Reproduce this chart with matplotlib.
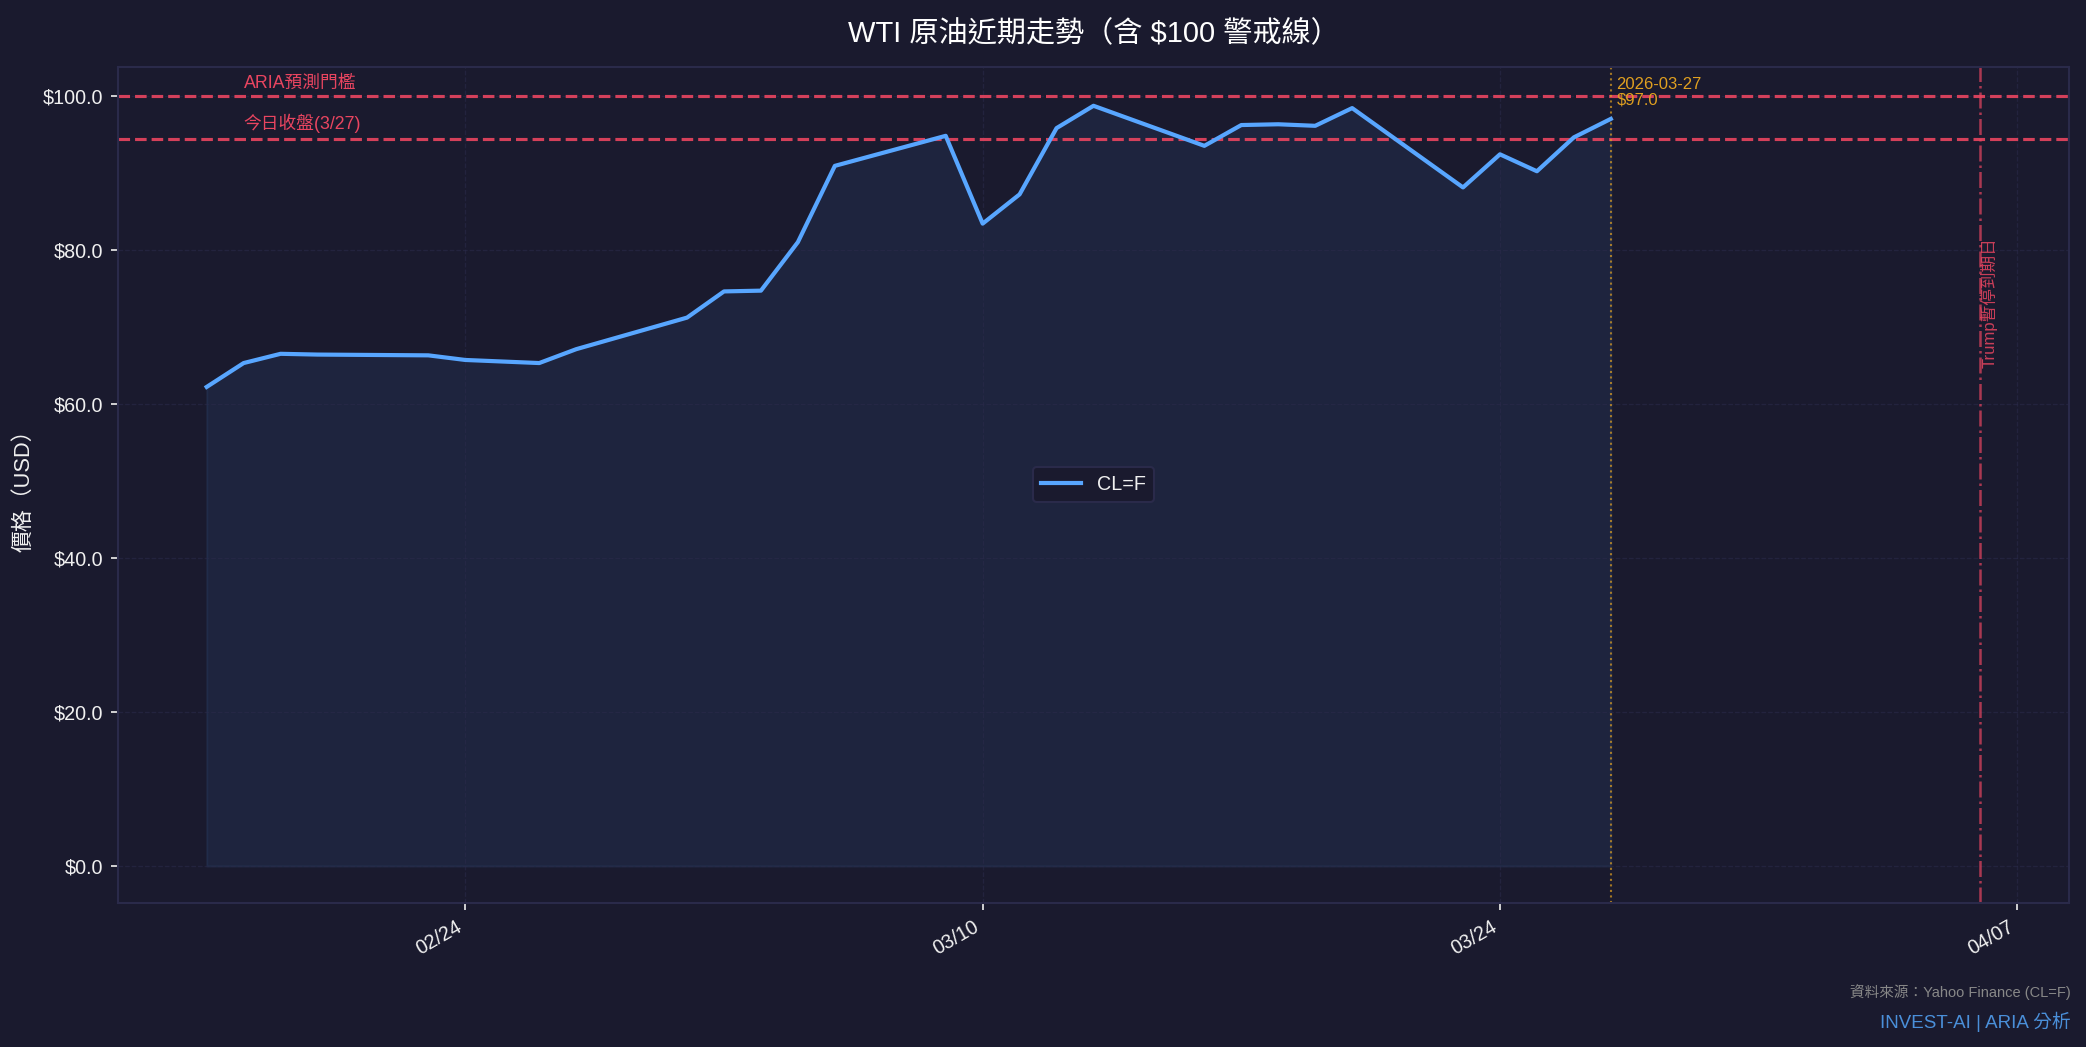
import matplotlib
matplotlib.use("Agg")
import matplotlib.pyplot as plt
import matplotlib.dates as mdates
from matplotlib.ticker import FuncFormatter
import pandas as pd

plt.rcParams['font.family'] = ['Liberation Sans', 'Noto Sans CJK TC', 'DejaVu Sans']

# ---- data ----
dates = ["2026-02-17", "2026-02-18", "2026-02-19", "2026-02-20", "2026-02-23",
         "2026-02-24", "2026-02-25", "2026-02-26", "2026-02-27", "2026-03-02",
         "2026-03-03", "2026-03-04", "2026-03-05", "2026-03-06", "2026-03-09",
         "2026-03-10", "2026-03-11", "2026-03-12", "2026-03-13", "2026-03-16",
         "2026-03-17", "2026-03-18", "2026-03-19", "2026-03-20", "2026-03-23",
         "2026-03-24", "2026-03-25", "2026-03-26", "2026-03-27"]
prices = [62.2, 65.3, 66.5, 66.4, 66.3,
          65.7, 65.5, 65.3, 67.1, 71.2,
          74.6, 74.7, 81.0, 90.9, 94.8,
          83.4, 87.2, 95.8, 98.7, 93.5,
          96.2, 96.3, 96.1, 98.4, 88.1,
          92.4, 90.2, 94.6, 97.0]
threshold = 100.0
today_close = 94.35
trump_date = "2026-04-06"
series_label = "CL=F"
yticks = [0, 20, 40, 60, 80, 100]

BG = '#1a1a2e'
RED = '#e94560'
BLUE = '#58a6ff'
GOLD = '#e0a020'
GRID = '#2a2a4a'

x = pd.to_datetime(dates)
tdate = pd.Timestamp(trump_date)

fig = plt.figure(figsize=(2086 / 150, 1047 / 150), dpi=150, facecolor=BG)
ax = fig.add_axes([118 / 2086, 1 - 903 / 1047, (2069 - 118) / 2086, (903 - 66.5) / 1047])
ax.set_facecolor(BG)

ax.fill_between(x, prices, 0, color=BLUE, alpha=0.08)
ax.plot(x, prices, color=BLUE, lw=2, label=series_label, zorder=3)

ax.axhline(threshold, color=RED, ls='--', lw=1.5, alpha=0.9)
ax.axhline(today_close, color=RED, ls='--', lw=1.5, alpha=0.9)
ax.text(x[1], threshold + 0.5, "ARIA預測門檻", color=RED, fontsize=8.5,
        ha='left', va='bottom')
ax.text(x[1], today_close + 0.8, "今日收盤(3/27)", color=RED, fontsize=8.5,
        ha='left', va='bottom')

ax.axvline(x[-1], color=GOLD, ls=':', lw=1, alpha=0.7)
ax.text(x[-1] + pd.Timedelta(hours=3.6), 102.5,
        f"{x[-1].strftime('%Y-%m-%d')}\n${prices[-1]:.1f}",
        color=GOLD, fontsize=8, ha='left', va='top', linespacing=1.1)

ax.axvline(tdate, color=RED, ls='-.', lw=1.2, alpha=0.7)
ax.text(tdate, 73.2, "Trump暫停到期日", color=RED, fontsize=8, rotation=90,
        ha='left', va='center', alpha=0.85)

ax.set_ylim(-4.8, 103.8)
ax.set_xlim(x[0] - pd.Timedelta(days=2.4), tdate + pd.Timedelta(days=2.4))
ax.set_yticks(yticks)
ax.yaxis.set_major_formatter(FuncFormatter(lambda v, p: f"${v:.1f}"))
ax.xaxis.set_major_locator(mdates.WeekdayLocator(byweekday=mdates.TU, interval=2))
ax.xaxis.set_major_formatter(mdates.DateFormatter('%m/%d'))
plt.setp(ax.get_xticklabels(), rotation=30, ha='right')

ax.tick_params(colors='#f0f0f0', labelsize=9.5)
for s in ax.spines.values():
    s.set_color(GRID)
    s.set_linewidth(1)
ax.grid(True, color=GRID, ls='--', lw=0.6, alpha=0.6)

ax.set_ylabel("價格（USD）", color='#f0f0f0', fontsize=10.5)
ax.set_title("WTI 原油近期走勢（含 $100 警戒線）", color='white', fontsize=14, pad=12)

leg = ax.legend(loc='center', fontsize=9.5, facecolor=BG, edgecolor=GRID,
                labelcolor='#f0f0f0', framealpha=1)

fig.text(2071 / 2086, 1 - 992.5 / 1047, "資料來源：Yahoo Finance (CL=F)",
         color='#888888', fontsize=7, ha='right', va='center')
fig.text(2071 / 2086, 1 - 1021.7 / 1047, "INVEST-AI | ARIA 分析",
         color='#4a8fd9', fontsize=9, ha='right', va='center')

fig.savefig("out.png", dpi=150, facecolor=BG)
